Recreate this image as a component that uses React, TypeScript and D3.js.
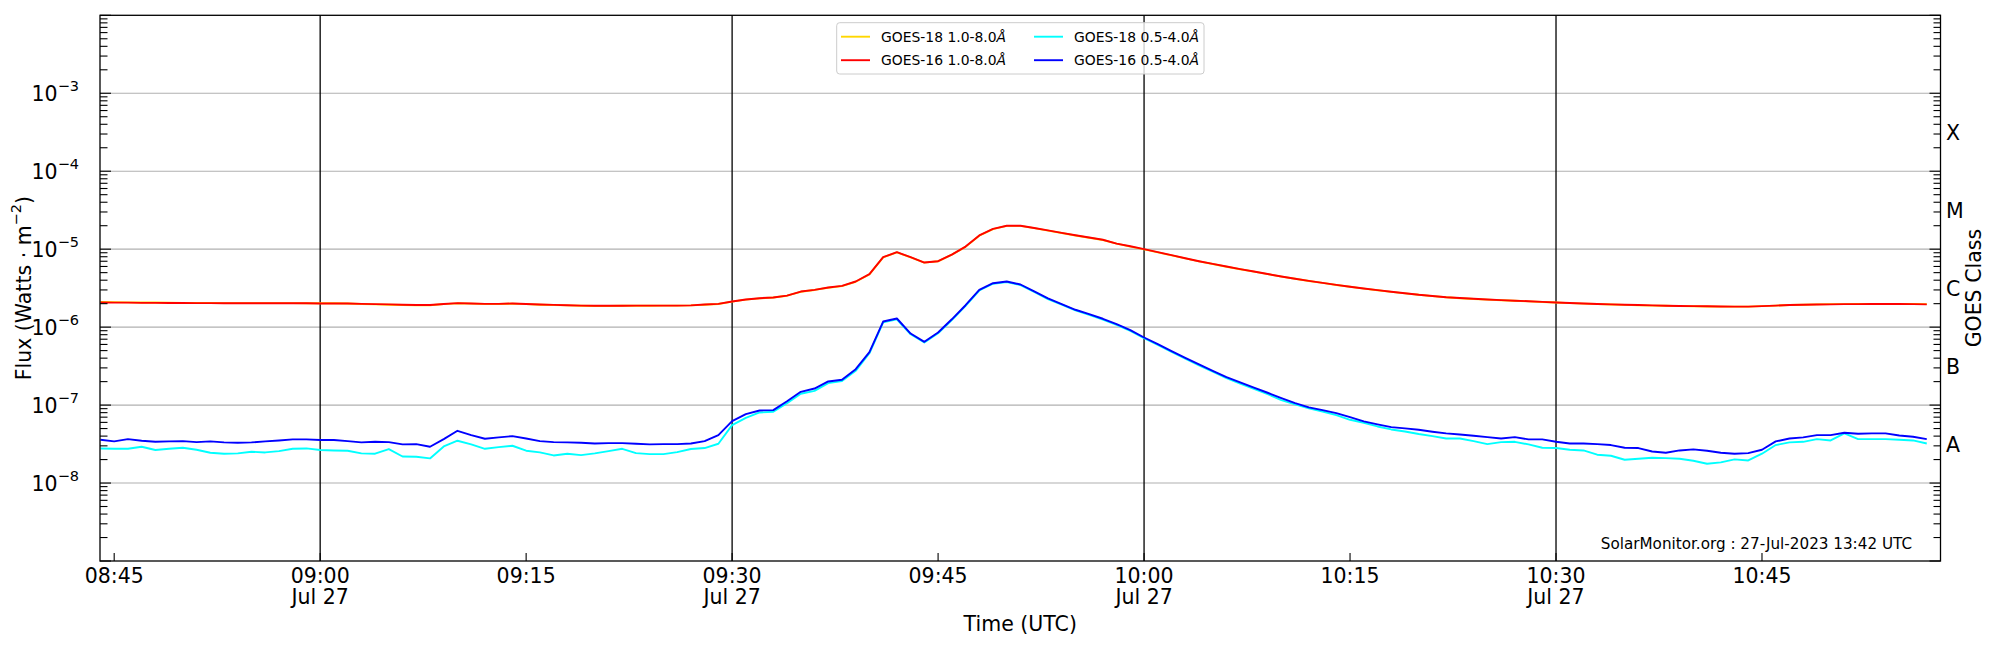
import React from "react";
import * as d3 from "d3";

const WIDTH = 2000;
const HEIGHT = 650;
const MARGIN = { left: 100, right: 59.5, top: 15.3, bottom: 89 };
const FONT = "DejaVu Sans, sans-serif";

// one sample per minute starting 08:44 UTC on 27 Jul 2023
const START = Date.UTC(2023, 6, 27, 8, 44);

// GOES-16 1.0-8.0 Å (W m^-2)
const goes16Long = [
  2.07e-6, 2.06e-6, 2.06e-6, 2.05e-6, 2.05e-6, 2.04e-6, 2.04e-6, 2.03e-6, 2.03e-6, 2.02e-6,
  2.02e-6, 2.02e-6, 2.02e-6, 2.02e-6, 2.02e-6, 2.02e-6,
  2.01e-6, 2.01e-6, 2.01e-6, 1.99e-6, 1.97e-6, 1.96e-6, 1.94e-6, 1.92e-6, 1.92e-6, 1.98e-6,
  2.03e-6, 2.01e-6, 1.99e-6, 1.99e-6, 2.01e-6, 1.98e-6, 1.95e-6, 1.93e-6,
  1.91e-6, 1.89e-6, 1.88e-6, 1.88e-6, 1.88e-6, 1.89e-6, 1.89e-6, 1.89e-6, 1.89e-6, 1.9e-6,
  1.95e-6, 1.99e-6,
  2.13e-6, 2.26e-6, 2.35e-6, 2.4e-6, 2.54e-6, 2.86e-6, 3.01e-6, 3.22e-6, 3.38e-6, 3.85e-6,
  4.78e-6, 7.89e-6, 9.14e-6, 7.89e-6, 6.74e-6, 7.01e-6, 8.53e-6, 1.08e-5, 1.5e-5, 1.82e-5,
  2.0e-5, 2.0e-5, 1.87e-5, 1.74e-5, 1.62e-5, 1.51e-5, 1.41e-5, 1.32e-5, 1.18e-5, 1.09e-5,
  1.0e-5, 9.15e-6, 8.37e-6, 7.65e-6, 7.01e-6, 6.48e-6, 5.99e-6, 5.55e-6, 5.17e-6, 4.8e-6,
  4.46e-6, 4.18e-6, 3.92e-6, 3.7e-6, 3.48e-6, 3.3e-6, 3.13e-6, 2.98e-6, 2.84e-6, 2.72e-6,
  2.6e-6, 2.51e-6, 2.42e-6, 2.36e-6, 2.31e-6, 2.26e-6, 2.22e-6, 2.18e-6, 2.15e-6, 2.11e-6,
  2.07e-6, 2.04e-6, 2.01e-6, 1.98e-6, 1.96e-6, 1.94e-6, 1.92e-6, 1.9e-6, 1.88e-6, 1.87e-6,
  1.86e-6, 1.85e-6, 1.84e-6, 1.83e-6, 1.83e-6, 1.86e-6, 1.89e-6, 1.92e-6, 1.94e-6, 1.95e-6,
  1.96e-6, 1.97e-6, 1.97e-6, 1.98e-6, 1.98e-6, 1.98e-6, 1.97e-6, 1.96e-6,
];

// GOES-18 1.0-8.0 Å (W m^-2), almost hidden under GOES-16
const goes18Long = [
  2.1e-6, 2.09e-6, 2.08e-6, 2.07e-6, 2.07e-6, 2.06e-6, 2.05e-6, 2.04e-6, 2.04e-6, 2.03e-6,
  2.03e-6, 2.03e-6, 2.03e-6, 2.03e-6, 2.03e-6, 2.02e-6,
  2.02e-6, 2.02e-6, 2.01e-6, 1.98e-6, 1.96e-6, 1.94e-6, 1.92e-6, 1.91e-6, 1.91e-6, 1.97e-6,
  2.02e-6, 2.0e-6, 1.98e-6, 1.98e-6, 2.0e-6, 1.97e-6, 1.94e-6, 1.92e-6,
  1.9e-6, 1.88e-6, 1.87e-6, 1.87e-6, 1.88e-6, 1.88e-6, 1.88e-6, 1.89e-6, 1.89e-6, 1.9e-6,
  1.94e-6, 1.98e-6,
  2.12e-6, 2.25e-6, 2.34e-6, 2.4e-6, 2.53e-6, 2.84e-6, 3.0e-6, 3.2e-6, 3.36e-6, 3.82e-6,
  4.75e-6, 7.85e-6, 9.1e-6, 7.86e-6, 6.72e-6, 6.99e-6, 8.5e-6, 1.07e-5, 1.49e-5, 1.81e-5,
  1.99e-5, 1.99e-5, 1.86e-5, 1.73e-5, 1.61e-5, 1.5e-5, 1.4e-5, 1.31e-5, 1.18e-5, 1.08e-5,
  9.95e-6, 9.1e-6, 8.33e-6, 7.62e-6, 6.98e-6, 6.45e-6, 5.96e-6, 5.53e-6, 5.15e-6, 4.78e-6,
  4.45e-6, 4.17e-6, 3.91e-6, 3.69e-6, 3.47e-6, 3.29e-6, 3.12e-6, 2.97e-6, 2.83e-6, 2.71e-6,
  2.6e-6, 2.5e-6, 2.42e-6, 2.35e-6, 2.3e-6, 2.25e-6, 2.21e-6, 2.18e-6, 2.14e-6, 2.1e-6,
  2.07e-6, 2.03e-6, 2.0e-6, 1.98e-6, 1.95e-6, 1.93e-6, 1.91e-6, 1.89e-6, 1.88e-6, 1.86e-6,
  1.85e-6, 1.84e-6, 1.83e-6, 1.83e-6, 1.83e-6, 1.86e-6, 1.89e-6, 1.92e-6, 1.94e-6, 1.96e-6,
  1.97e-6, 1.97e-6, 1.98e-6, 1.99e-6, 1.99e-6, 1.98e-6, 1.98e-6, 1.97e-6,
];

// GOES-16 0.5-4.0 Å (W m^-2)
const goes16Short = [
  3.59e-8, 3.42e-8, 3.66e-8, 3.49e-8, 3.38e-8, 3.42e-8, 3.45e-8, 3.35e-8, 3.42e-8, 3.32e-8,
  3.29e-8, 3.32e-8, 3.42e-8, 3.52e-8, 3.63e-8, 3.63e-8,
  3.56e-8, 3.56e-8, 3.45e-8, 3.32e-8, 3.38e-8, 3.35e-8, 3.13e-8, 3.16e-8, 2.92e-8, 3.66e-8,
  4.68e-8, 4.12e-8, 3.7e-8, 3.85e-8, 4.0e-8, 3.73e-8, 3.45e-8, 3.35e-8,
  3.32e-8, 3.29e-8, 3.22e-8, 3.25e-8, 3.25e-8, 3.19e-8, 3.13e-8, 3.16e-8, 3.16e-8, 3.22e-8,
  3.45e-8, 4.12e-8,
  6.23e-8, 7.66e-8, 8.53e-8, 8.62e-8, 1.12e-7, 1.48e-7, 1.63e-7, 2.01e-7, 2.11e-7, 2.89e-7,
  4.78e-7, 1.18e-6, 1.29e-6, 8.28e-7, 6.48e-7, 8.53e-7, 1.26e-6, 1.91e-6, 3.01e-6, 3.66e-6,
  3.85e-6, 3.52e-6, 2.88e-6, 2.34e-6, 1.97e-6, 1.67e-6, 1.47e-6, 1.28e-6, 1.09e-6, 9.14e-7,
  7.36e-7, 6.05e-7, 4.92e-7, 4.04e-7, 3.32e-7, 2.75e-7, 2.28e-7, 1.95e-7, 1.68e-7, 1.44e-7,
  1.23e-7, 1.06e-7, 9.33e-8, 8.62e-8, 7.89e-8, 7.01e-8, 6.17e-8, 5.65e-8, 5.22e-8, 5.02e-8,
  4.82e-8, 4.55e-8, 4.33e-8, 4.2e-8, 4.04e-8, 3.88e-8, 3.73e-8, 3.88e-8, 3.63e-8, 3.63e-8,
  3.38e-8, 3.22e-8, 3.22e-8, 3.16e-8, 3.07e-8, 2.84e-8, 2.81e-8, 2.54e-8, 2.45e-8, 2.62e-8,
  2.7e-8, 2.6e-8, 2.45e-8, 2.38e-8, 2.42e-8, 2.67e-8, 3.42e-8, 3.73e-8, 3.85e-8, 4.12e-8,
  4.12e-8, 4.42e-8, 4.29e-8, 4.33e-8, 4.33e-8, 4.08e-8, 3.92e-8, 3.66e-8,
];

// GOES-18 0.5-4.0 Å (W m^-2)
const goes18Short = [
  2.78e-8, 2.75e-8, 2.75e-8, 2.92e-8, 2.65e-8, 2.75e-8, 2.84e-8, 2.67e-8, 2.45e-8, 2.38e-8,
  2.4e-8, 2.52e-8, 2.47e-8, 2.57e-8, 2.75e-8, 2.78e-8,
  2.65e-8, 2.62e-8, 2.6e-8, 2.4e-8, 2.38e-8, 2.73e-8, 2.19e-8, 2.17e-8, 2.07e-8, 2.95e-8,
  3.49e-8, 3.13e-8, 2.75e-8, 2.89e-8, 3.01e-8, 2.6e-8, 2.47e-8, 2.26e-8,
  2.38e-8, 2.28e-8, 2.4e-8, 2.57e-8, 2.75e-8, 2.42e-8, 2.35e-8, 2.35e-8, 2.49e-8, 2.73e-8,
  2.81e-8, 3.19e-8,
  5.54e-8, 6.87e-8, 8.04e-8, 8.21e-8, 1.06e-7, 1.4e-7, 1.52e-7, 1.91e-7, 2.03e-7, 2.75e-7,
  4.62e-7, 1.15e-6, 1.26e-6, 8.1e-7, 6.35e-7, 8.35e-7, 1.23e-6, 1.87e-6, 2.95e-6, 3.6e-6,
  3.78e-6, 3.46e-6, 2.84e-6, 2.29e-6, 1.94e-6, 1.64e-6, 1.44e-6, 1.25e-6, 1.07e-6, 8.95e-7,
  7.2e-7, 5.9e-7, 4.8e-7, 3.95e-7, 3.24e-7, 2.68e-7, 2.22e-7, 1.89e-7, 1.62e-7, 1.38e-7,
  1.16e-7, 1.02e-7, 9.06e-8, 8.28e-8, 7.44e-8, 6.48e-8, 5.93e-8, 5.32e-8, 4.87e-8, 4.59e-8,
  4.25e-8, 4.0e-8, 3.73e-8, 3.73e-8, 3.45e-8, 3.16e-8, 3.35e-8, 3.38e-8, 3.13e-8, 2.84e-8,
  2.81e-8, 2.67e-8, 2.62e-8, 2.31e-8, 2.24e-8, 1.99e-8, 2.05e-8, 2.11e-8, 2.09e-8, 2.05e-8,
  1.93e-8, 1.77e-8, 1.84e-8, 2.01e-8, 1.95e-8, 2.38e-8, 3.07e-8, 3.32e-8, 3.38e-8, 3.66e-8,
  3.52e-8, 4.33e-8, 3.66e-8, 3.66e-8, 3.66e-8, 3.59e-8, 3.52e-8, 3.22e-8,
];

const seriesNames = [
  "GOES-18 1.0-8.0",
  "GOES-16 1.0-8.0",
  "GOES-18 0.5-4.0",
  "GOES-16 0.5-4.0",
];
const seriesColors = ["#ffd700", "#ff0000", "#00ffff", "#0000ff"];
const seriesValues = [goes18Long, goes16Long, goes18Short, goes16Short];

const decadeExponents = [-8, -7, -6, -5, -4, -3];
const goesClasses = ["A", "B", "C", "M", "X"];
const classExponents = [-7.5, -6.5, -5.5, -4.5, -3.5];
const dayLabel = "Jul 27";
const stamp = "SolarMonitor.org : 27-Jul-2023 13:42 UTC";

const App = () => {
  const left = MARGIN.left;
  const right = WIDTH - MARGIN.right;
  const top = MARGIN.top;
  const bottom = HEIGHT - MARGIN.bottom;

  const xScale = d3
    .scaleUtc()
    .domain([
      new Date(Date.UTC(2023, 6, 27, 8, 43, 58)),
      new Date(Date.UTC(2023, 6, 27, 10, 58, 0)),
    ])
    .range([left, right]);

  const yScale = d3.scaleLog().domain([1e-9, 1e-2]).range([bottom, top]);

  const times = goes16Long.map((_, i) => new Date(START + i * 60000));

  const line = d3
    .line<number>()
    .x((_, i) => xScale(times[i]))
    .y((d) => yScale(d));

  // minor ticks 2..9 of every decade
  const minorTicks: number[] = [];
  for (let e = -9; e < -2; e++) {
    for (let m = 2; m <= 9; m++) minorTicks.push(m * Math.pow(10, e));
  }
  const majorTicks = d3.range(-9, -1).map((e) => Math.pow(10, e));

  const xTicks = xScale.ticks(d3.utcMinute.every(15)!);
  const fmt = d3.utcFormat("%H:%M");

  const tickFont = 20.5;

  return (
    <svg
      width={WIDTH}
      height={HEIGHT}
      style={{ position: "absolute", left: 0, top: 0, background: "#fff" }}
      fontFamily={FONT}
    >
      {/* horizontal grid */}
      {decadeExponents.map((e) => (
        <line
          key={"g" + e}
          x1={left}
          x2={right}
          y1={yScale(Math.pow(10, e))}
          y2={yScale(Math.pow(10, e))}
          stroke="#b0b0b0"
          strokeWidth={1.1}
        />
      ))}

      {/* vertical day-marker lines every 30 min */}
      {xTicks
        .filter((t) => t.getUTCMinutes() % 30 === 0)
        .map((t) => (
          <line
            key={"v" + t.getTime()}
            x1={xScale(t)}
            x2={xScale(t)}
            y1={top}
            y2={bottom}
            stroke="#000"
            strokeWidth={1.3}
          />
        ))}

      {/* series */}
      <g clipPath="url(#plotclip)">
        {seriesValues.map((vals, i) => (
          <path
            key={seriesNames[i]}
            d={line(vals) || ""}
            fill="none"
            stroke={seriesColors[i]}
            strokeWidth={1.9}
            strokeLinejoin="round"
          />
        ))}
      </g>
      <defs>
        <clipPath id="plotclip">
          <rect x={left} y={top} width={right - left} height={bottom - top} />
        </clipPath>
      </defs>

      {/* y ticks, left and right, pointing inward */}
      {minorTicks.map((v) => (
        <g key={"m" + v}>
          <line x1={left} x2={left + 7.5} y1={yScale(v)} y2={yScale(v)} stroke="#000" strokeWidth={1.1} />
          <line x1={right} x2={right - 7} y1={yScale(v)} y2={yScale(v)} stroke="#000" strokeWidth={1.1} />
        </g>
      ))}
      {majorTicks.map((v) => (
        <g key={"M" + v}>
          <line x1={left} x2={left + 11} y1={yScale(v)} y2={yScale(v)} stroke="#000" strokeWidth={1.1} />
          <line x1={right} x2={right - 11} y1={yScale(v)} y2={yScale(v)} stroke="#000" strokeWidth={1.1} />
        </g>
      ))}

      {/* y tick labels */}
      {decadeExponents.map((e) => (
        <text
          key={"yl" + e}
          x={79}
          y={yScale(Math.pow(10, e)) + 8}
          textAnchor="end"
          fontSize={tickFont}
        >
          10
          <tspan fontSize={14.5} dy={-10}>
            {"\u2212" + Math.abs(e)}
          </tspan>
        </text>
      ))}

      {/* x ticks and labels */}
      {xTicks.map((t) => (
        <g key={"x" + t.getTime()}>
          <line x1={xScale(t)} x2={xScale(t)} y1={bottom} y2={bottom - 8} stroke="#000" strokeWidth={1.1} />
          <text x={xScale(t)} y={583} textAnchor="middle" fontSize={tickFont}>
            {fmt(t)}
          </text>
          {t.getUTCMinutes() % 30 === 0 && (
            <text x={xScale(t)} y={604} textAnchor="middle" fontSize={tickFont}>
              {dayLabel}
            </text>
          )}
        </g>
      ))}

      {/* GOES class labels */}
      {goesClasses.map((c, i) => (
        <text
          key={c}
          x={1946}
          y={yScale(Math.pow(10, classExponents[i])) + 7.5}
          fontSize={tickFont}
        >
          {c}
        </text>
      ))}

      {/* frame */}
      <rect
        x={left}
        y={top}
        width={right - left}
        height={bottom - top}
        fill="none"
        stroke="#000"
        strokeWidth={1.3}
      />

      {/* axis titles */}
      <text x={(left + right) / 2} y={631} textAnchor="middle" fontSize={tickFont}>
        Time (UTC)
      </text>
      <text
        transform={`translate(31, ${(top + bottom) / 2}) rotate(-90)`}
        textAnchor="middle"
        fontSize={tickFont}
      >
        Flux (Watts · m
        <tspan fontSize={14.5} dy={-10}>
          −2
        </tspan>
        <tspan dy={10}>)</tspan>
      </text>
      <text
        transform={`translate(1981, ${(top + bottom) / 2}) rotate(-90)`}
        textAnchor="middle"
        fontSize={tickFont}
      >
        GOES Class
      </text>

      {/* timestamp */}
      <text x={1912} y={549} textAnchor="end" fontSize={15.2}>
        {stamp}
      </text>

      {/* legend */}
      <g>
        <rect
          x={836.7}
          y={22.7}
          width={367.3}
          height={51.3}
          rx={3}
          fill="#fff"
          fillOpacity={0.8}
          stroke="#cccccc"
          strokeWidth={1}
        />
        {seriesNames.map((name, i) => {
          const col = Math.floor(i / 2);
          const row = i % 2;
          const lx = 841 + col * 193;
          const ly = 36.7 + row * 23.5;
          return (
            <g key={"lg" + name}>
              <line x1={lx} x2={lx + 29} y1={ly} y2={ly} stroke={seriesColors[i]} strokeWidth={1.9} />
              <text x={lx + 40} y={ly + 5} fontSize={13.9}>
                {name}
                <tspan fontStyle="italic">Å</tspan>
              </text>
            </g>
          );
        })}
      </g>
    </svg>
  );
};

export default App;
